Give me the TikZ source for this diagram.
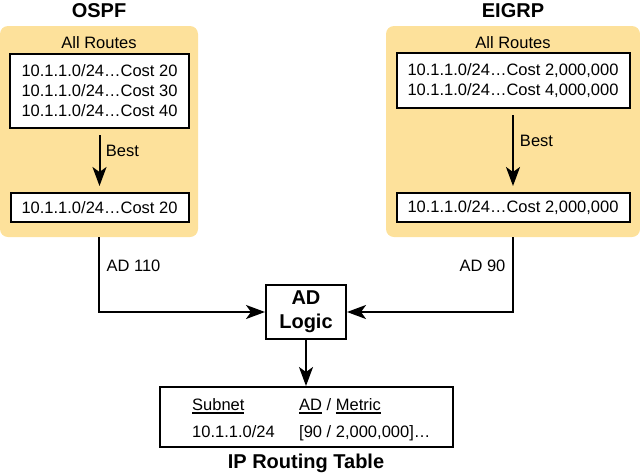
\documentclass[tikz,border=0pt]{standalone}
\usepackage{fontspec}
\setmainfont{Liberation Sans}
\usetikzlibrary{arrows.meta}
\definecolor{panelyellow}{RGB}{253,225,155}
\newcommand{\ulined}[1]{\leavevmode\setbox0=\hbox{#1}\rlap{\rule[-3.6pt]{\wd0}{1.3pt}}\box0\relax}

\begin{document}
\begin{tikzpicture}[x=1pt,y=-1pt,
  every node/.style={font=\fontsize{16.5}{20}\selectfont, inner sep=0pt},
  title/.style={font=\fontsize{20}{24}\selectfont\bfseries},
  panel/.style={fill=panelyellow, rounded corners=8pt, minimum height=211pt},
  routebox/.style={draw, line width=2pt, fill=white, align=center},
  arrow/.style={line width=2pt, -{Stealth[length=19pt,width=14pt,inset=5pt]}}]
  \useasboundingbox (0,0) rectangle (640,475);
  % panels
  \node[panel, minimum width=198pt] (ospfpanel) at (99,131.5) {};
  \node[panel, minimum width=254pt] (eigrppanel) at (513,131.5) {};
  \node[title] (ospf) at (99,11) {OSPF};
  \node[title] (eigrp) at (513,11) {EIGRP};
  \node (ospfallroutes) at (99,43) {All Routes};
  \node (eigrpallroutes) at (513,43) {All Routes};
  \node[routebox, minimum width=179pt, minimum height=74pt] (ospfall) at (99.5,91)
    {10.1.1.0/24…Cost 20\\10.1.1.0/24…Cost 30\\10.1.1.0/24…Cost 40};
  \node[routebox, minimum width=178pt, minimum height=29pt] (ospfbest) at (99.5,207.5)
    {10.1.1.0/24…Cost 20};
  \node[routebox, minimum width=233pt, minimum height=55pt] (eigrpall) at (513,80.5)
    {10.1.1.0/24…Cost 2,000,000\\10.1.1.0/24…Cost 4,000,000};
  \node[routebox, minimum width=233pt, minimum height=29pt] (eigrpbest) at (513,207.5)
    {10.1.1.0/24…Cost 2,000,000};
  \draw[arrow, shorten <=6pt, shorten >=6pt] (ospfall.south) -- (ospfbest.north);
  \draw[arrow, shorten <=6pt, shorten >=6pt] (eigrpall.south) -- (eigrpbest.north);
  \node (ospfbestlbl) at (122.5,151) {Best};
  \node (eigrpbestlbl) at (536.5,141) {Best};
  % AD logic
  \node[routebox, title, minimum width=80pt, minimum height=54pt] (adlogic) at (306,312) {AD\\Logic};
  \draw[arrow] (ospfpanel.south) |- (adlogic.west);
  \draw[arrow] (eigrppanel.south) |- (adlogic.east);
  \node (ospfad) at (133.5,265.5) {AD 110};
  \node (eigrpad) at (482.5,265.5) {AD 90};
  % routing table
  \node[routebox, minimum width=293pt, minimum height=60pt] (table) at (306,417) {};
  \draw[arrow] (adlogic) -- (table);
  \node[anchor=base west] (subnethead) at (192,410) {\ulined{Subnet}};
  \node[anchor=base west] (metrichead) at (299,410) {\ulined{AD} / \ulined{Metric}};
  \node[anchor=base west] (subnetval) at (192,437) {10.1.1.0/24};
  \node[anchor=base west] (metricval) at (299,437) {[90 / 2,000,000]…};
  \node[title] (tablename) at (306,463) {IP Routing Table};
\end{tikzpicture}
\end{document}
